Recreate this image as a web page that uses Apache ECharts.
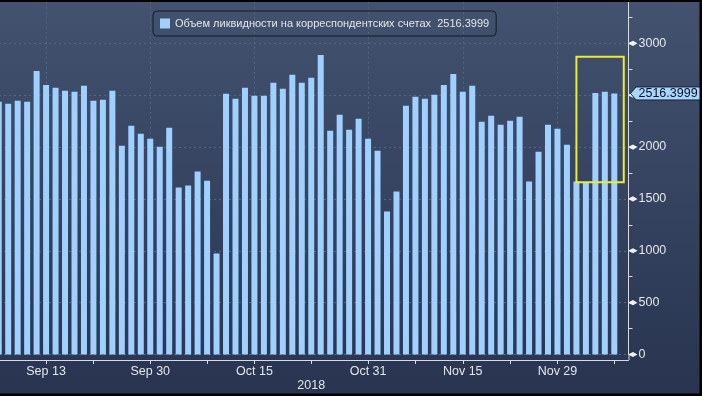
<!DOCTYPE html>
<html><head><meta charset="utf-8">
<script src="https://cdn.jsdelivr.net/npm/echarts@6/dist/echarts.min.js"></script>
<style>html,body{margin:0;padding:0;background:#000;overflow:hidden;width:702px;height:396px;position:relative}#c{position:absolute;left:-6px;top:0;width:708px;height:396px}</style>
</head><body><div id="c"></div>
<script>
// ---- data ----
const categories = [
 '2018-09-06','2018-09-07','2018-09-10','2018-09-11','2018-09-12','2018-09-13','2018-09-14','2018-09-17','2018-09-18','2018-09-19',
 '2018-09-20','2018-09-21','2018-09-24','2018-09-25','2018-09-26','2018-09-27','2018-09-28',
 '2018-10-01','2018-10-02','2018-10-03','2018-10-04','2018-10-05','2018-10-08','2018-10-09','2018-10-10','2018-10-11','2018-10-12',
 '2018-10-15','2018-10-16','2018-10-17','2018-10-18','2018-10-19','2018-10-22','2018-10-23','2018-10-24','2018-10-25','2018-10-26',
 '2018-10-29','2018-10-30','2018-10-31',
 '2018-11-01','2018-11-02','2018-11-06','2018-11-07','2018-11-08','2018-11-09','2018-11-12','2018-11-13','2018-11-14','2018-11-15',
 '2018-11-16','2018-11-19','2018-11-20','2018-11-21','2018-11-22','2018-11-23','2018-11-26','2018-11-27','2018-11-28','2018-11-29','2018-11-30',
 '2018-12-03','2018-12-04','2018-12-05','2018-12-06','2018-12-07','2018-12-10'
];
const values = [
 2436,2417,2446,2436,2734,2599,2571,2542,2532,2590,
 2446,2455,2542,2013,2205,2128,2080,
 2003,2186,1609,1628,1763,1676,974,2513,2465,2571,
 2494,2494,2619,2561,2696,2619,2667,2888,2157,2311,
 2167,2272,2080,
 1965,1378,1571,2397,2484,2465,2503,2599,2705,2532,
 2590,2244,2301,2215,2253,2292,1667,1955,2215,2176,2022,
 1667,1655,2522,2532,2516.3999
];
const seriesName = 'Объем ликвидности на корреспондентских счетах';
const majorTickDates = ['2018-09-13','2018-09-28','2018-10-15','2018-10-31','2018-11-15','2018-11-29'];
const majorTickLabels = ['Sep 13','Sep 30','Oct 15','Oct 31','Nov 15','Nov 29'];
const minorTickDates = ['2018-09-20','2018-10-08','2018-10-23','2018-11-08','2018-11-22','2018-12-07'];
const yTicks = [0,500,1000,1500,2000,2500,3000];
const yearLabel = '2018';
const highlightBox = {from:'2018-12-03', to:'2018-12-10', low:1660, high:2870};

// ---- style ----
const FONT = 'Liberation Sans, Arial, sans-serif';
const BAR = '#9fd0ff';
const AXIS = '#d6dbe4';
const TXT = '#e4e6ea';
const GRID = '#56667f';
const SHIFT = 6; // chart canvas starts 6px left of the window
const lastValue = values[values.length-1];

const chart = echarts.init(document.getElementById('c'), null, {renderer:'canvas'});
chart.setOption({
  animation:false,
  backgroundColor: new echarts.graphic.LinearGradient(0,0,0,1,[{offset:0,color:'#42526f'},{offset:1,color:'#283450'}]),
  textStyle:{fontFamily:FONT},
  legend:{
    left:153+SHIFT, top:11, padding:[7,7,7,7],
    borderColor:'#151a24', borderWidth:1, borderRadius:4,
    itemWidth:10, itemHeight:10, itemGap:4, icon:'rect',
    textStyle:{color:TXT, fontSize:11, fontFamily:FONT},
    formatter: n => n + '  ' + String(lastValue),
    data:[seriesName]
  },
  grid:{left:0, right:73.5, top:1.8, bottom:41.5, containLabel:false},
  xAxis:{
    type:'category', data:categories, offset:5.5,
    axisLine:{onZero:false, lineStyle:{color:AXIS, width:1}},
    axisTick:{show:true, alignWithLabel:true, length:4, lineStyle:{color:AXIS},
      interval:(i,v)=> majorTickDates.includes(v) || minorTickDates.includes(v)},
    axisLabel:{color:TXT, fontSize:12.5, margin:5, fontFamily:FONT,
      interval:(i,v)=> majorTickDates.includes(v),
      formatter:v=>{const k=majorTickDates.indexOf(v);return k>=0?majorTickLabels[k]:'';}},
    splitLine:{show:true, alignWithLabel:true, interval:(i,v)=> majorTickDates.includes(v),
      lineStyle:{color:GRID, type:[2,3], width:1}}
  },
  yAxis:{
    type:'value', position:'right', min:0, max:3400, interval:500,
    axisLine:{show:true, lineStyle:{color:AXIS, width:1}},
    axisTick:{show:false},
    minorTick:{show:true, splitNumber:2, length:4, lineStyle:{color:AXIS}},
    axisLabel:{color:TXT, fontSize:12.5, margin:10, fontFamily:FONT, showMaxLabel:false,
      formatter:v=> yTicks.includes(v)? String(v):''},
    splitLine:{show:true, showMaxLine:false, lineStyle:{color:GRID, type:[2,3], width:1}}
  },
  series:[{
    name:seriesName, type:'bar', data:values, barWidth:6,
    itemStyle:{color:BAR}, silent:true
  }]
});

// ---- overlays derived from the axes ----
const g = [];
const zeroY = chart.convertToPixel({yAxisIndex:0}, 0);
const x0 = chart.convertToPixel({xAxisIndex:0}, categories[0]);
const x1 = chart.convertToPixel({xAxisIndex:0}, categories[1]);
const band = x1 - x0;
const xRight = chart.convertToPixel({xAxisIndex:0}, categories[categories.length-1]) + band/2;
g.push({type:'line', z:100, shape:{x1:xRight+0.5,y1:zeroY,x2:xRight+0.5,y2:zeroY+5.5}, style:{stroke:AXIS,lineWidth:1}});
yTicks.forEach(v=>{
  const y = chart.convertToPixel({yAxisIndex:0}, v);
  const x = xRight+0.5;
  g.push({type:'polygon', z:100, shape:{points:[[x,y-0.6],[x+4,y-2.6],[x+8.5,y],[x+4,y+2.6],[x,y+0.6]]}, style:{fill:'#f2f4f8'}});
});
// highlight box (data coordinates -> pixels)
const hbL = chart.convertToPixel({xAxisIndex:0}, highlightBox.from);
const hbR = chart.convertToPixel({xAxisIndex:0}, highlightBox.to);
const hbT = chart.convertToPixel({yAxisIndex:0}, highlightBox.high);
const hbB = chart.convertToPixel({yAxisIndex:0}, highlightBox.low);
g.push({type:'rect', z:90, shape:{x:hbL,y:hbT,width:hbR-hbL,height:hbB-hbT}, style:{fill:'none', stroke:'#ecec30', lineWidth:2}});
// last value badge
const ly = chart.convertToPixel({yAxisIndex:0}, lastValue);
const bx = xRight+2;
g.push({type:'polygon', z:110, shape:{points:[[bx,ly],[bx+5.5,ly-6.5],[712,ly-6.5],[712,ly+6.5],[bx+5.5,ly+6.5]]},
  style:{fill:'#a9d6ff', stroke:'#1a2233', lineWidth:1}});
g.push({type:'text', z:111, style:{x:bx+8, y:ly+0.5, text:String(lastValue), fill:'#0c1322', fontSize:12.5, fontFamily:FONT, verticalAlign:'middle', align:'left'}});
// year label
const yrX = chart.convertToPixel({xAxisIndex:0}, '2018-10-23');
g.push({type:'text', z:100, style:{x:yrX, y:386, text:yearLabel, fill:TXT, fontSize:12.5, fontFamily:FONT, align:'center', verticalAlign:'middle'}});
// frame
g.push({type:'rect', z:120, shape:{x:0,y:0,width:720,height:2}, style:{fill:'#000'}});
g.push({type:'rect', z:120, shape:{x:699.5+SHIFT,y:0,width:10,height:396}, style:{fill:'#000'}});
g.push({type:'rect', z:120, shape:{x:0,y:393.5,width:720,height:3}, style:{fill:'#000'}});
chart.setOption({graphic:{elements:g}});
</script></body></html>
